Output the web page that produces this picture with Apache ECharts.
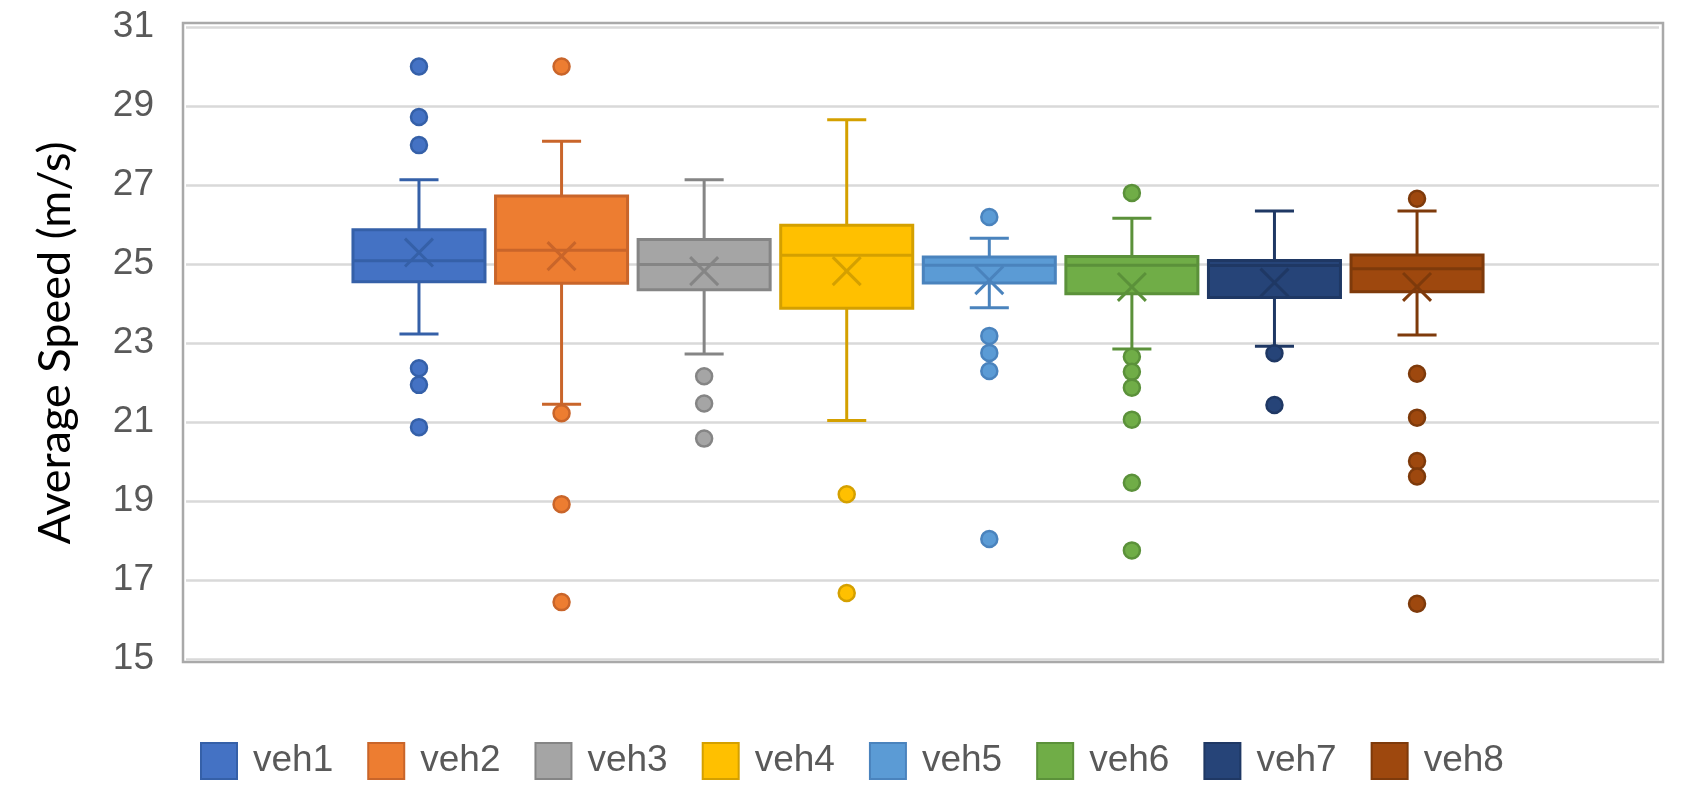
<!DOCTYPE html>
<html>
<head>
<meta charset="utf-8">
<script src="https://cdn.jsdelivr.net/npm/echarts@6/dist/echarts.min.js"></script>
<style>
  html, body { margin: 0; padding: 0; background: #ffffff; }
  #chart { width: 1690px; height: 796px; }
</style>
</head>
<body>
<div id="chart"></div>
<script>
// ---- data ----
const categories = ['veh1', 'veh2', 'veh3', 'veh4', 'veh5', 'veh6', 'veh7', 'veh8'];
const whiskerLow  = [23.23, 21.45, 22.72, 21.04, 23.89, 22.85, 22.92, 23.20];
const q1          = [24.55, 24.51, 24.35, 23.88, 24.52, 24.25, 24.15, 24.30];
const median      = [25.08, 25.35, 24.99, 25.22, 24.97, 24.97, 24.96, 24.88];
const q3          = [25.87, 26.72, 25.62, 25.98, 25.18, 25.19, 25.09, 25.23];
const whiskerHigh = [27.13, 28.11, 27.13, 28.65, 25.65, 26.16, 26.34, 26.34];
const means       = [25.29, 25.20, 24.82, 24.82, 24.59, 24.42, 24.53, 24.42];
const outliers = [
  [30.0, 28.72, 28.01, 22.36, 21.94, 20.87],
  [30.0, 21.22, 18.92, 16.44],
  [22.16, 21.47, 20.58],
  [19.17, 16.67],
  [26.19, 23.18, 22.75, 22.29, 18.04],
  [26.80, 22.65, 22.27, 21.87, 21.06, 19.46, 17.75],
  [22.74, 21.43],
  [26.65, 22.22, 21.11, 20.01, 19.62, 16.40]
];
const yMin = 15, yMax = 31, yStep = 2;
const axisTitle = 'Average Speed (m/s)';

// ---- styles ----
const fills   = ['#4472C4', '#ED7D31', '#A5A5A5', '#FFC000', '#5B9BD5', '#70AD47', '#264478', '#9E480E'];
const strokes = ['#3560A8', '#C9652A', '#858585', '#D4A000', '#4A83BD', '#5B913A', '#1F3864', '#7E3A0B'];

function makeRender(fill, stroke) {
  return function (params, api) {
    const x = api.value(0);
    const pt = k => api.coord([x, api.value(k)]);
    const lo = pt(1), b1 = pt(2), md = pt(3), b3 = pt(4), hi = pt(5), mn = pt(6);
    const unit = api.size([1, 0])[0];
    const half = unit * 0.463, cap = unit * 0.137, xs = unit * 0.098;
    const cx = lo[0];
    const ls = { stroke: stroke, lineWidth: 3, fill: null };
    return {
      type: 'group',
      children: [
        { type: 'line', shape: { x1: cx, y1: b3[1], x2: cx, y2: hi[1] }, style: ls },
        { type: 'line', shape: { x1: cx - cap, y1: hi[1], x2: cx + cap, y2: hi[1] }, style: ls },
        { type: 'line', shape: { x1: cx, y1: b1[1], x2: cx, y2: lo[1] }, style: ls },
        { type: 'line', shape: { x1: cx - cap, y1: lo[1], x2: cx + cap, y2: lo[1] }, style: ls },
        { type: 'rect', shape: { x: cx - half, y: b3[1], width: 2 * half, height: b1[1] - b3[1] },
          style: { fill: fill, stroke: stroke, lineWidth: 3 } },
        { type: 'line', shape: { x1: cx - half, y1: md[1], x2: cx + half, y2: md[1] }, style: ls },
        { type: 'line', shape: { x1: cx - xs, y1: mn[1] - xs, x2: cx + xs, y2: mn[1] + xs }, style: ls },
        { type: 'line', shape: { x1: cx - xs, y1: mn[1] + xs, x2: cx + xs, y2: mn[1] - xs }, style: ls }
      ]
    };
  };
}

const series = [];
categories.forEach((name, i) => {
  series.push({
    name: name,
    type: 'custom',
    xAxisIndex: 0, yAxisIndex: 0,
    itemStyle: { color: fills[i], borderColor: strokes[i], borderWidth: 2.5 },
    renderItem: makeRender(fills[i], strokes[i]),
    encode: { x: 0, y: [1, 2, 3, 4, 5, 6] },
    data: [[i + 1, whiskerLow[i], q1[i], median[i], q3[i], whiskerHigh[i], means[i]]],
    z: 2
  });
});
categories.forEach((name, i) => {
  series.push({
    name: name,
    type: 'scatter',
    xAxisIndex: 0, yAxisIndex: 0,
    symbol: 'circle',
    symbolSize: 16,
    itemStyle: { color: fills[i], borderColor: strokes[i], borderWidth: 2.5, opacity: 1 },
    data: outliers[i].map(v => [i + 1, v]),
    z: 3
  });
});

const chart = echarts.init(document.getElementById('chart'), null, { renderer: 'canvas' });
chart.setOption({
  animation: false,
  backgroundColor: '#ffffff',
  grid: [
    { left: 186, right: 31, top: 27, bottom: 137, show: false, containLabel: false },
    { left: 183, right: 27, top: 23, bottom: 134, show: true, borderColor: '#A9A9A9', borderWidth: 2.5, backgroundColor: 'transparent', z: 0 }
  ],
  xAxis: [
    { type: 'value', gridIndex: 0, min: -0.634, max: 9.697, show: false },
    { type: 'value', gridIndex: 1, min: 0, max: 1, show: false }
  ],
  yAxis: [
    {
      type: 'value', gridIndex: 0, min: yMin, max: yMax, interval: yStep,
      name: axisTitle,
      nameLocation: 'middle',
      nameGap: 108,
      nameTextStyle: { fontFamily: 'Lato', fontSize: 45, color: '#000000' },
      axisLine: { show: false },
      axisTick: { show: false },
      axisLabel: { fontFamily: 'Liberation Sans', fontSize: 37, color: '#595959', margin: 32 },
      splitLine: { show: true, lineStyle: { color: '#D9D9D9', width: 2.5 } }
    },
    { type: 'value', gridIndex: 1, min: 0, max: 1, show: false, splitLine: { show: false } }
  ],
  legend: {
    data: categories,
    left: 195,
    top: 737,
    icon: 'rect',
    itemWidth: 36,
    itemHeight: 36,
    itemGap: 34,
    textStyle: { fontFamily: 'Liberation Sans', fontSize: 37, color: '#595959', padding: [0, 0, 0, 11] }
  },
  series: series
});
</script>
</body>
</html>
